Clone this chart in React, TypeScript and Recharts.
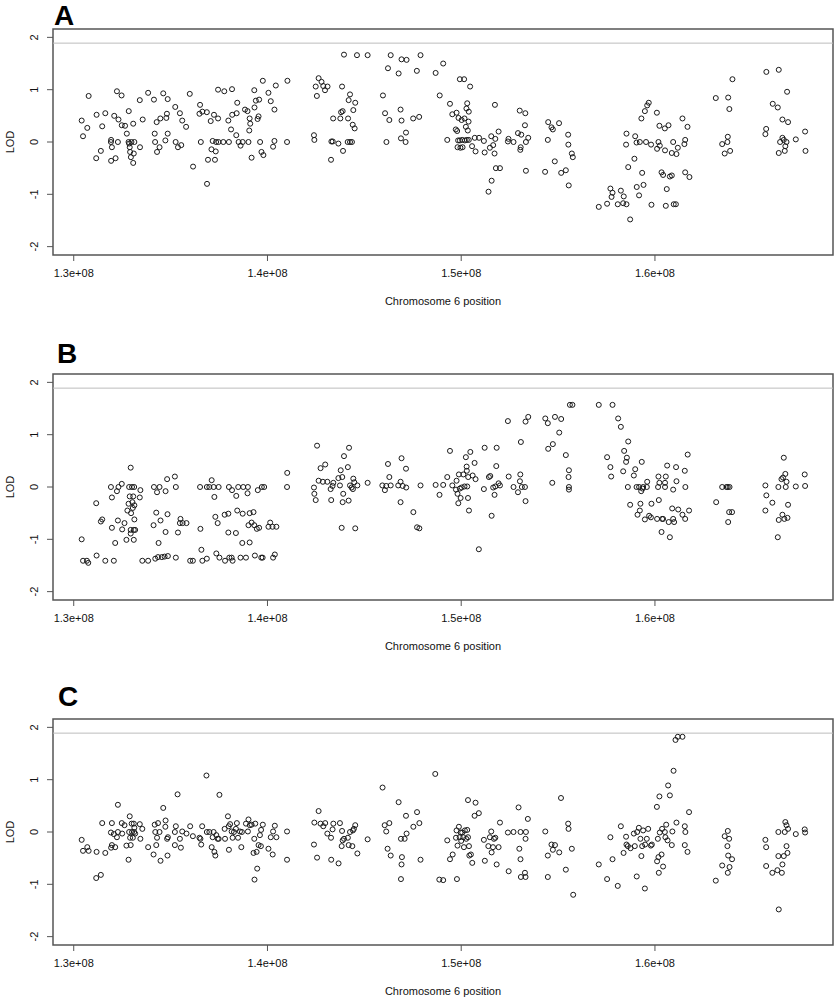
import { ScatterChart, Scatter, XAxis, YAxis, ReferenceLine, ReferenceArea } from "recharts";

// [position (Mb), LOD]
const lodA: [number, number][] = [
  [130.41,0.41],[130.48,0.11],[130.70,0.27],[130.77,0.88],[131.16,-0.31],[131.18,0.52],[131.40,-0.17],[131.47,0.30],[131.63,0.55],[131.93,0.04],[131.92,0.0],[131.97,-0.10],[131.93,-0.36],[132.09,0.50],[132.16,-0.31],[132.23,0.97],[132.28,0.0],[132.31,0.43],[132.47,0.89],[132.48,0.32],[132.65,0.31],[132.74,0.16],[132.84,0.59],[132.83,0.0],[132.86,-0.03],[132.89,-0.10],[132.91,-0.19],[132.95,-0.29],[132.98,0.0],[133.07,0.35],[133.07,-0.40],[133.10,-0.22],[133.13,0.0],[133.41,0.80],[133.42,-0.10],[133.56,0.43],[133.84,0.94],[134.14,0.81],[134.18,0.16],[134.20,0.0],[134.28,0.38],[134.30,-0.19],[134.43,-0.10],[134.47,0.45],[134.62,0.93],[134.73,0.03],[134.78,0.46],[134.81,0.54],[134.85,0.16],[134.85,0.82],[135.24,0.67],[135.26,0.0],[135.38,-0.10],[135.48,0.55],[135.55,-0.06],[135.60,0.41],[135.80,0.29],[135.99,0.92],[136.16,-0.47],[136.52,0.71],[136.49,0.54],[136.56,0.0],[136.64,0.58],[136.87,0.57],[136.88,-0.80],[136.93,-0.34],[137.07,0.40],[137.11,-0.14],[137.17,0.02],[137.24,0.52],[137.29,-0.34],[137.33,-0.18],[137.35,0.0],[137.45,0.45],[137.45,1.0],[137.47,0.0],[137.72,0.0],[137.77,0.97],[137.98,0.41],[138.01,0.0],[138.12,0.24],[138.17,1.01],[138.18,0.52],[138.41,0.55],[138.39,0.13],[138.44,0.75],[138.51,0.0],[138.61,-0.07],[138.72,0.0],[138.84,0.62],[138.97,0.59],[139.02,0.0],[139.06,0.22],[139.08,0.45],[139.11,0.35],[139.18,-0.30],[139.32,0.99],[139.33,0.66],[139.40,0.79],[139.49,0.44],[139.54,0.49],[139.57,0.81],[139.62,0.0],[139.69,-0.19],[139.76,1.17],[139.79,-0.25],[140.05,0.94],[140.17,0.78],[140.29,-0.09],[140.36,0.62],[140.36,0.02],[140.43,1.08],
  [141.03,1.17],[141.01,0.0],[142.40,0.13],[142.42,0.04],[142.64,1.22],[142.49,1.06],[142.55,0.88],[142.79,1.15],[142.88,1.07],[142.97,0.99],[143.10,1.06],[143.28,-0.34],[143.30,0.01],[143.37,0.01],[143.39,0.45],[143.66,-0.03],[143.76,0.45],[143.80,0.57],[143.88,0.59],[143.85,1.06],[143.90,-0.17],[143.95,1.67],[144.16,0.45],[144.19,0.80],[144.26,0.91],[144.14,0.0],[144.26,0.0],[144.36,0.0],[144.40,0.33],[144.43,0.61],[144.50,0.26],[144.53,0.75],[144.62,1.66],[145.17,1.66],[145.96,0.89],[146.07,0.55],[146.14,0.0],[146.22,1.41],[146.29,0.42],[146.36,1.66],[146.77,1.31],[146.87,0.62],[146.89,0.07],[146.92,0.41],[146.92,1.58],[147.13,0.0],[147.15,0.18],[147.18,1.57],[147.52,0.45],[147.71,1.36],[147.83,0.48],[147.90,1.66],[148.68,1.32],[148.89,0.89],[149.07,1.50],[149.28,0.04],[149.42,0.73],[149.54,0.53],[149.72,0.24],[149.76,0.56],[149.79,0.21],[149.84,0.03],[149.86,0.46],[149.93,1.20],[149.81,-0.10],[149.93,0.03],[149.96,-0.11],[150.02,0.42],[150.05,0.04],[150.07,-0.10],[150.15,1.20],[150.17,0.45],[150.19,0.03],[150.24,0.29],[150.27,0.64],[150.29,0.04],[150.31,0.74],[150.34,0.22],[150.38,0.39],[150.39,0.58],[150.39,0.04],[150.46,1.06],[150.56,-0.08],[150.70,0.08],[150.74,-0.18],[150.92,0.08],[151.17,0.02],[151.21,-0.20],[151.41,-0.95],[151.48,-0.11],[151.55,0.11],[151.57,-0.74],[151.65,-0.06],[151.72,-0.22],[151.74,0.71],[151.76,0.06],[151.79,-0.50],[151.93,0.20],[152.00,-0.50],[152.41,0.01],[152.44,0.06],[152.70,0.0],[152.93,0.17],[153.02,0.60],[153.05,-0.15],[153.07,-0.10],[153.10,0.14],[153.29,0.32],[153.31,0.55],[153.34,-0.55],[153.34,0.0],[153.46,0.08],[154.33,-0.57],[154.47,0.04],[154.49,0.38],[154.66,0.28],[154.73,0.24],[154.83,-0.37],[155.05,0.36],[155.16,-0.59],[155.40,-0.54],[155.52,0.14],[155.53,-0.05],[155.55,-0.83],[155.71,-0.22],[155.76,-0.29],
  [157.10,-1.24],[157.53,-1.18],[157.70,-0.89],[157.81,-0.97],[157.76,-1.05],[158.08,-1.19],[158.24,-0.93],[158.36,-1.17],[158.39,-1.04],[158.53,-1.19],[158.53,0.16],[158.62,-0.48],[158.51,-0.05],[158.72,-1.48],[158.94,-0.32],[158.98,0.11],[159.05,-0.01],[159.06,-0.86],[159.18,-1.02],[159.22,0.0],[159.30,0.45],[159.34,-0.59],[159.41,-0.82],[159.48,0.59],[159.54,0.0],[159.60,0.70],[159.68,0.75],[159.80,-0.05],[159.82,-1.20],[160.10,0.56],[160.11,-0.13],[160.18,0.0],[160.23,0.31],[160.25,-0.07],[160.34,-0.58],[160.42,-0.63],[160.51,0.26],[160.52,-0.16],[160.56,-1.22],[160.61,-0.90],[160.70,0.32],[160.77,-0.66],[160.87,-0.64],[160.87,-0.21],[160.97,-1.19],[161.08,-1.19],[160.94,0.0],[161.11,-0.23],[161.18,-0.11],[161.42,0.45],[161.52,-0.04],[161.56,0.04],[161.56,-0.58],[161.68,0.29],[161.78,-0.67],[163.14,0.84],[163.47,-0.04],[163.60,-0.22],[163.74,0.0],[163.76,0.10],[163.78,0.85],[163.84,0.63],[163.88,-0.17],[164.00,1.20],[165.70,0.15],[165.74,0.25],[165.75,1.34],[166.08,0.73],[166.34,0.66],[166.39,1.38],[166.39,-0.21],[166.46,0.0],[166.58,0.43],[166.58,0.08],[166.65,0.04],[166.70,-0.17],[166.73,-0.08],[166.79,0.0],[166.82,0.96],[166.87,0.38],[167.27,0.05],[167.75,0.20],[167.77,-0.17],
];

const lodB: [number, number][] = [
  [130.41,-1.0],[130.48,-1.41],[130.68,-1.41],[130.75,-1.45],[131.16,-0.31],[131.18,-1.31],[131.40,-0.66],[131.47,-0.62],[131.63,-1.41],[131.92,0.0],[131.97,-0.20],[131.97,-0.78],[132.07,-1.41],[132.14,-1.07],[132.23,-0.08],[132.28,-0.64],[132.31,0.0],[132.48,0.06],[132.50,-0.81],[132.62,-0.69],[132.72,-1.01],[132.77,-0.45],[132.83,-0.32],[132.86,0.0],[132.89,-0.18],[132.94,0.37],[132.94,-0.82],[132.94,-0.89],[132.96,-0.50],[133.01,0.0],[133.03,-0.29],[133.05,-0.40],[133.07,-0.18],[133.10,-0.82],[133.12,0.0],[133.13,-0.62],[133.13,-0.35],[133.10,-1.01],[133.17,-0.82],[133.41,-0.20],[133.44,-0.06],[133.54,-1.41],[133.84,-1.41],[134.14,0.0],[134.12,-0.73],[134.21,-1.37],[134.26,-0.49],[134.30,-0.10],[134.35,-1.34],[134.38,-1.07],[134.43,0.0],[134.48,-0.64],[134.55,-1.34],[134.69,-1.33],[134.74,-0.08],[134.74,-0.86],[134.82,0.15],[134.86,-1.32],[134.84,-0.52],[135.22,0.20],[135.27,-1.35],[135.27,0.0],[135.38,-0.87],[135.51,-0.61],[135.48,-0.69],[135.62,-0.69],[135.82,-0.69],[136.01,-1.41],[136.15,-1.41],[136.52,0.0],[136.54,-0.80],[136.59,-1.20],[136.64,-1.41],[136.87,-1.37],[136.87,0.0],[137.00,0.0],[137.12,0.13],[137.26,-0.19],[137.22,0.0],[137.31,-0.57],[137.36,-1.27],[137.43,-0.69],[137.48,0.0],[137.52,-1.35],[137.79,-0.53],[137.81,-1.41],[137.98,-0.51],[137.98,-0.87],[138.01,0.0],[138.03,-1.35],[138.15,-1.35],[138.17,-0.06],[138.20,-1.41],[138.37,-0.88],[138.39,-0.17],[138.44,-0.45],[138.49,0.0],[138.61,-1.35],[138.70,-1.07],[138.72,-0.51],[138.75,0.0],[138.89,-1.35],[138.97,-0.12],[138.99,0.0],[139.02,-0.73],[139.08,-1.06],[139.08,-0.50],[139.18,-0.68],[139.28,-0.48],[139.32,-0.73],[139.35,-1.31],[139.45,-0.80],[139.50,-0.06],[139.57,-0.78],[139.68,-1.35],[139.71,0.0],[139.75,-1.35],[139.83,0.0],[140.05,-0.76],[140.14,-0.68],[140.26,-0.76],[140.29,-1.35],[140.38,-1.29],[140.46,-0.76],
  [141.02,0.27],[141.01,0.0],[142.40,-0.01],[142.42,-0.13],[142.49,-0.25],[142.56,0.79],[142.64,0.12],[142.74,0.36],[142.86,0.10],[142.98,0.43],[143.09,0.10],[143.26,-0.04],[143.29,-0.25],[143.36,0.02],[143.40,0.08],[143.66,0.17],[143.74,0.03],[143.78,0.32],[143.83,-0.78],[143.86,0.19],[143.88,-0.29],[143.91,-0.13],[143.95,0.59],[144.15,0.38],[144.19,-0.26],[144.21,0.75],[144.26,0.03],[144.34,-0.01],[144.41,-0.04],[144.43,0.16],[144.48,0.09],[144.53,-0.79],[144.64,0.03],[145.17,0.08],[145.93,0.03],[146.06,-0.06],[146.13,0.02],[146.22,0.44],[146.29,0.19],[146.36,0.03],[146.75,0.03],[146.87,0.10],[146.87,-0.29],[146.92,0.55],[146.98,0.02],[147.15,0.35],[147.16,-0.01],[147.53,-0.48],[147.72,-0.77],[147.84,-0.79],[147.90,0.03],[148.68,0.04],[148.88,-0.15],[149.07,0.04],[149.28,0.19],[149.42,0.69],[149.54,0.03],[149.73,-0.05],[149.76,0.12],[149.81,-0.13],[149.85,-0.31],[149.88,0.24],[149.93,-0.03],[149.97,-0.21],[150.02,-0.01],[150.11,0.24],[150.17,0.01],[150.24,0.57],[150.28,0.39],[150.29,0.31],[150.31,0.01],[150.35,-0.21],[150.36,0.19],[150.40,-0.45],[150.47,0.67],[150.59,0.22],[150.69,0.46],[150.74,0.15],[150.91,-1.19],[151.17,-0.04],[151.21,0.75],[151.43,0.19],[151.50,0.21],[151.57,-0.55],[151.65,-0.01],[151.72,-0.15],[151.76,0.01],[151.81,0.40],[151.83,0.75],[151.93,0.07],[152.00,0.03],[152.41,1.26],[152.45,0.20],[152.70,0.0],[152.93,-0.10],[153.03,0.11],[153.05,0.24],[153.08,0.86],[153.13,0.0],[153.29,0.0],[153.32,-0.27],[153.32,1.25],[153.46,1.34],[154.34,1.31],[154.47,1.22],[154.49,0.73],[154.70,0.08],[154.73,0.82],[154.84,1.34],[155.06,1.04],[155.16,1.30],[155.40,0.61],[155.56,0.32],[155.54,0.19],[155.56,0.0],[155.56,-0.05],[155.61,1.57],
  [155.74,1.57],[157.10,1.57],[157.53,0.57],[157.70,0.38],[157.74,0.20],[157.81,1.57],[158.10,1.31],[158.24,1.15],[158.36,0.30],[158.41,0.69],[158.51,0.48],[158.55,0.56],[158.62,0.87],[158.60,0.0],[158.72,-0.34],[158.91,0.22],[158.98,0.34],[159.05,0.0],[159.10,-0.53],[159.18,0.0],[159.22,-0.45],[159.25,-0.32],[159.29,-0.08],[159.32,0.48],[159.36,-0.03],[159.39,0.0],[159.48,-0.62],[159.58,0.0],[159.60,0.10],[159.70,-0.55],[159.79,-0.58],[159.82,-0.32],[160.11,-0.61],[160.16,0.0],[160.18,0.20],[160.20,-0.25],[160.23,0.08],[160.34,-0.86],[160.37,-0.61],[160.42,-0.61],[160.52,0.0],[160.52,0.08],[160.56,0.20],[160.63,0.41],[160.71,-0.67],[160.77,-0.96],[160.89,-0.41],[160.94,-0.05],[160.94,-0.61],[160.99,-0.67],[161.09,0.38],[161.11,0.11],[161.20,-0.43],[161.42,-0.53],[161.54,0.31],[161.56,-0.61],[161.57,0.0],[161.69,0.62],[161.76,-0.45],[163.16,-0.29],[163.47,0.0],[163.69,0.0],[163.76,0.0],[163.85,0.0],[163.78,-0.67],[163.83,-0.48],[163.98,-0.48],[165.70,0.03],[165.70,-0.45],[165.75,-0.16],[166.06,-0.30],[166.34,-0.96],[166.37,0.0],[166.39,-0.63],[166.53,0.15],[166.58,-0.53],[166.61,0.18],[166.65,0.56],[166.68,-0.61],[166.73,0.25],[166.75,0.0],[166.79,0.10],[166.84,-0.59],[166.87,-0.34],[167.27,0.01],[167.73,0.24],[167.75,0.02],
];

const lodC: [number, number][] = [
  [130.41,-0.15],[130.48,-0.36],[130.70,-0.29],[130.77,-0.36],[131.16,-0.88],[131.18,-0.38],[131.40,-0.82],[131.47,0.17],[131.63,-0.40],[131.92,-0.01],[131.93,-0.30],[131.97,0.17],[131.97,-0.25],[132.07,-0.04],[132.14,-0.29],[132.23,-0.10],[132.28,0.52],[132.28,0.0],[132.48,0.17],[132.50,-0.03],[132.62,0.13],[132.72,-0.26],[132.83,-0.53],[132.86,0.0],[132.89,0.30],[132.91,-0.11],[132.94,-0.25],[132.99,0.16],[133.01,0.0],[133.05,-0.11],[133.10,0.16],[133.12,0.0],[133.13,0.08],[133.17,-0.03],[133.41,0.15],[133.44,-0.13],[133.54,0.06],[133.84,-0.29],[134.12,-0.43],[134.18,0.14],[134.21,0.0],[134.26,-0.25],[134.30,-0.11],[134.35,0.17],[134.43,0.0],[134.48,-0.55],[134.62,0.46],[134.73,0.10],[134.74,0.22],[134.82,-0.13],[134.84,-0.45],[134.86,-0.10],[135.22,0.0],[135.22,-0.25],[135.27,0.11],[135.36,0.72],[135.48,-0.13],[135.53,-0.30],[135.60,0.01],[135.82,-0.03],[136.01,0.11],[136.15,-0.08],[136.49,-0.11],[136.58,-0.24],[136.63,0.11],[136.54,-0.13],[136.85,1.08],[136.87,0.0],[137.00,0.0],[137.12,-0.29],[137.17,-0.10],[137.22,0.0],[137.26,-0.38],[137.31,-0.45],[137.36,-0.06],[137.43,-0.13],[137.48,-0.13],[137.52,0.71],[137.79,0.06],[137.81,-0.13],[137.96,0.30],[138.01,-0.34],[138.00,0.11],[138.07,0.15],[138.15,0.01],[138.20,-0.11],[138.27,0.0],[138.37,0.06],[138.42,0.17],[138.48,-0.11],[138.58,0.01],[138.65,-0.29],[138.68,0.0],[138.89,0.16],[138.99,0.01],[139.02,0.24],[139.09,0.13],[139.18,0.14],[139.28,-0.40],[139.32,-0.13],[139.33,-0.91],[139.37,0.16],[139.44,-0.38],[139.47,-0.70],[139.54,-0.25],[139.61,-0.06],[139.66,-0.27],[139.76,0.14],[139.67,0.04],[140.05,-0.32],[140.17,-0.10],[140.27,-0.43],[140.29,0.01],[140.38,0.12],[140.46,-0.10],
  [141.01,0.01],[141.01,-0.53],[142.40,-0.24],[142.42,0.18],[142.56,-0.49],[142.64,0.40],[142.74,0.16],[142.88,0.11],[142.98,0.17],[143.09,-0.03],[143.28,-0.11],[143.29,-0.53],[143.36,0.05],[143.40,0.16],[143.67,-0.60],[143.74,0.17],[143.83,-0.27],[143.85,0.02],[143.88,-0.16],[143.95,-0.13],[144.15,-0.11],[144.19,-0.25],[144.26,0.0],[144.38,-0.27],[144.41,0.03],[144.46,0.06],[144.53,0.13],[144.64,-0.41],[145.17,-0.14],[145.94,0.85],[146.05,0.13],[146.13,0.01],[146.20,-0.32],[146.29,0.17],[146.36,-0.45],[146.77,0.57],[146.89,-0.90],[146.89,-0.13],[146.92,-0.62],[146.94,-0.48],[147.08,-0.13],[147.15,0.31],[147.18,-0.03],[147.53,0.10],[147.72,0.38],[147.84,0.17],[147.90,-0.53],[148.66,1.11],[148.87,-0.91],[149.07,-0.92],[149.28,-0.16],[149.42,-0.52],[149.56,-0.43],[149.73,-0.11],[149.76,0.03],[149.78,-0.90],[149.81,-0.26],[149.88,0.10],[149.92,-0.10],[149.97,-0.01],[150.00,-0.17],[150.05,-0.01],[150.11,-0.10],[150.14,-0.29],[150.19,0.03],[150.26,-0.13],[150.31,0.04],[150.35,0.61],[150.35,-0.10],[150.40,-0.27],[150.42,-0.45],[150.50,-0.43],[150.57,-0.59],[150.69,0.31],[150.74,0.56],[150.91,0.36],[151.17,-0.15],[151.22,-0.55],[151.40,-0.27],[151.48,-0.10],[151.55,0.01],[151.57,-0.39],[151.64,-0.29],[151.69,-0.13],[151.76,-0.11],[151.83,-0.62],[151.93,-0.29],[152.00,0.18],[152.41,-0.01],[152.45,-0.75],[152.70,0.0],[152.96,0.47],[153.00,-0.32],[153.06,0.0],[153.06,-0.52],[153.08,-0.86],[153.29,-0.78],[153.32,-0.13],[153.34,0.0],[153.32,-0.86],[153.44,0.25],[154.34,0.01],[154.47,-0.45],[154.47,-0.86],[154.66,-0.24],[154.73,-0.34],[154.84,-0.25],[155.06,-0.39],[155.15,0.65],[155.40,-0.72],[155.52,0.16],[155.54,0.06],
  [155.71,-0.32],[155.78,-1.20],[157.10,-0.62],[157.53,-0.90],[157.70,-0.10],[157.81,-0.52],[158.08,-1.03],[158.24,0.11],[158.38,-0.40],[158.51,-0.09],[158.53,-0.24],[158.60,-0.27],[158.74,-0.31],[158.91,-0.03],[158.96,-0.27],[159.06,-0.85],[159.08,0.0],[159.17,0.08],[159.25,-0.13],[159.30,-0.46],[159.34,-0.27],[159.39,0.03],[159.48,-1.08],[159.49,-0.24],[159.58,-0.13],[159.65,0.06],[159.79,-0.26],[159.84,-0.24],[160.10,0.48],[160.11,-0.56],[160.15,-0.13],[160.18,-0.48],[160.20,-0.78],[160.23,0.68],[160.25,-0.01],[160.34,-0.43],[160.37,0.06],[160.42,-0.66],[160.51,0.0],[160.54,-0.10],[160.58,0.14],[160.65,-0.16],[160.68,0.89],[160.77,0.70],[160.87,-0.25],[160.90,0.01],[160.96,1.17],[161.06,1.76],[161.11,0.18],[161.18,1.82],[161.42,1.82],[161.54,-0.25],[161.54,0.11],[161.57,0.0],[161.68,-0.38],[161.76,0.38],[163.14,-0.93],[163.47,-0.64],[163.60,-0.08],[163.74,-0.27],[163.76,0.02],[163.78,-0.45],[163.83,-0.13],[163.85,-0.67],[163.98,-0.52],[163.76,-0.78],[165.70,-0.15],[165.74,-0.29],[165.74,-0.65],[166.06,-0.78],[166.32,-0.73],[166.39,-1.48],[166.37,0.0],[166.37,-0.46],[166.55,-0.78],[166.58,-0.62],[166.65,-0.46],[166.70,0.0],[166.73,0.19],[166.79,0.13],[166.79,-0.27],[166.84,-0.40],[166.87,0.06],[167.27,-0.04],[167.73,0.05],[167.75,-0.01],
];

const xTicks = [1.3e8, 1.4e8, 1.5e8, 1.6e8];
const yTicks = [-2, -1, 0, 1, 2];
const threshold = 1.89;
const xDomain: [number, number] = [128.93e6, 169.19e6];
const yDomain: [number, number] = [-2.16, 2.16];

const FONT = '"Liberation Sans", Arial, Helvetica, sans-serif';
const PANEL_H = 345;

const toRows = (pts: [number, number][]) => pts.map(([mb, lod]) => ({ pos: mb * 1e6, lod }));

const Ring = (props: any) => (
  <circle cx={props.cx} cy={props.cy} r={2.5} fill="none" stroke="#1a1a1a" strokeWidth={1} />
);

const XTick = ({ x, y, payload }: any) => (
  <text x={x} y={y} dy={14} textAnchor="middle" fontSize={11} fill="#111" fontFamily={FONT}>
    {(payload.value / 1e8).toFixed(1)}e+08
  </text>
);

const YTick = ({ x, y, payload }: any) => (
  <text x={x} y={y} transform={`rotate(-90 ${x} ${y})`} textAnchor="middle" fontSize={11} fill="#111" fontFamily={FONT}>
    {payload.value}
  </text>
);

function Panel({ pts }: { pts: [number, number][] }) {
  return (
    <ScatterChart width={839} height={PANEL_H} margin={{ top: 29, right: 6, bottom: 30, left: 0 }}>
      <XAxis
        type="number"
        dataKey="pos"
        domain={xDomain}
        ticks={xTicks}
        allowDataOverflow
        axisLine={false}
        tickSize={6}
        tickMargin={2}
        tickLine={{ stroke: "#555" }}
        tick={<XTick />}
        height={60}
        label={{
          content: (p: any) => (
            <text x={p.viewBox.x + p.viewBox.width / 2} y={p.viewBox.y + 50} textAnchor="middle" fontSize={11} fill="#111" fontFamily={FONT}>
              Chromosome 6 position
            </text>
          ),
        }}
      />
      <YAxis
        type="number"
        dataKey="lod"
        domain={yDomain}
        ticks={yTicks}
        allowDataOverflow
        axisLine={false}
        tickSize={6}
        tickMargin={9}
        tickLine={{ stroke: "#555" }}
        tick={<YTick />}
        width={53}
        label={{
          content: (p: any) => {
            const cx = 13.5;
            const cy = p.viewBox.y + p.viewBox.height / 2;
            return (
              <text x={cx} y={cy} transform={`rotate(-90 ${cx} ${cy})`} textAnchor="middle" fontSize={11} fill="#111" fontFamily={FONT}>
                LOD
              </text>
            );
          },
        }}
      />
      <ReferenceLine y={threshold} stroke="#bdbdbd" strokeWidth={1} />
      <ReferenceArea
        x1={xDomain[0]}
        x2={xDomain[1]}
        y1={yDomain[0]}
        y2={yDomain[1]}
        fill="none"
        fillOpacity={0}
        stroke="#555"
        strokeWidth={1.5}
        ifOverflow="visible"
      />
      <Scatter data={toRows(pts)} shape={<Ring />} isAnimationActive={false} />
    </ScatterChart>
  );
}

const panels = [
  { letter: "A", pts: lodA },
  { letter: "B", pts: lodB },
  { letter: "C", pts: lodC },
];
// panel letters: [x, baseline y] on the page
const letterPos: [number, number][] = [[54, 25], [57, 363], [58, 706]];

export default function App() {
  return (
    <div style={{ position: "absolute", left: 0, top: 0, width: 839, height: 1000, background: "#fff" }}>
      {panels.map((p, i) => (
        <div key={p.letter} style={{ position: "absolute", left: 0, top: i * PANEL_H, width: 839, height: PANEL_H }}>
          <Panel pts={p.pts} />
        </div>
      ))}
      <svg width={839} height={1000} style={{ position: "absolute", left: 0, top: 0, pointerEvents: "none" }}>
        {panels.map((p, i) => (
          <text key={p.letter} x={letterPos[i][0]} y={letterPos[i][1]} fontSize={28} fontWeight="bold" fill="#000" fontFamily={FONT}>
            {p.letter}
          </text>
        ))}
      </svg>
    </div>
  );
}
